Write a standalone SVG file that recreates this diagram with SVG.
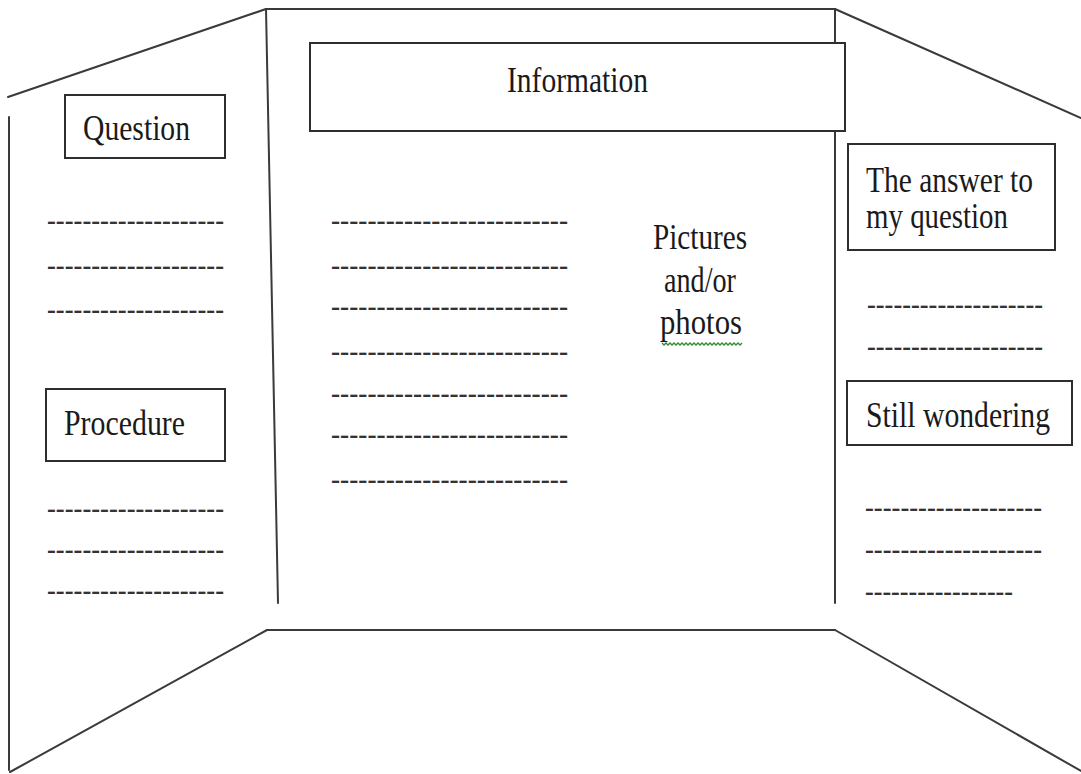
<svg xmlns="http://www.w3.org/2000/svg" width="1081" height="774" viewBox="0 0 1081 774">
  <style>
    .edge { stroke: #3a3a3a; stroke-width: 2; fill: none; stroke-linecap: round; }
    .box { fill: #ffffff; stroke: #2e2e2e; stroke-width: 2; }
    .lbl { font-family: "Liberation Serif", "Times New Roman", serif; font-size: 35px; fill: #1a1a1a; }
    .dash { font-family: "Liberation Serif", "Times New Roman", serif; font-size: 27px; font-weight: bold; fill: #333333; }
  </style>
  <rect width="1081" height="774" fill="#ffffff"/>

  <g id="board">
    <line class="edge" x1="8" y1="97" x2="266" y2="9"/>
    <line class="edge" x1="9" y1="117" x2="9" y2="770"/>
    <line class="edge" x1="10" y1="772" x2="267" y2="630"/>
    <line class="edge" x1="266" y1="9" x2="835" y2="9"/>
    <line class="edge" x1="266" y1="9" x2="278" y2="603"/>
    <line class="edge" x1="835" y1="9" x2="835" y2="603"/>
    <line class="edge" x1="267" y1="630" x2="835" y2="630"/>
    <line class="edge" x1="835" y1="9" x2="1081" y2="118"/>
    <line class="edge" x1="835" y1="630" x2="1081" y2="771"/>
  </g>

  <g id="information">
    <rect class="box" x="310" y="43" width="535" height="88"/>
    <text class="lbl" x="507" y="92" textLength="141" lengthAdjust="spacingAndGlyphs">Information</text>
  </g>

  <g id="question">
    <rect class="box" x="65" y="95" width="160" height="63"/>
    <text class="lbl" x="83" y="140" textLength="107" lengthAdjust="spacingAndGlyphs">Question</text>
  </g>

  <g id="procedure">
    <rect class="box" x="46" y="389" width="179" height="72"/>
    <text class="lbl" x="64" y="435" textLength="121" lengthAdjust="spacingAndGlyphs">Procedure</text>
  </g>

  <g id="answer">
    <rect class="box" x="848" y="144" width="207" height="106"/>
    <text class="lbl" x="866" y="192" font-size="33" textLength="167" lengthAdjust="spacingAndGlyphs">The answer to</text>
    <text class="lbl" x="866" y="228" font-size="33" textLength="142" lengthAdjust="spacingAndGlyphs">my question</text>
  </g>

  <g id="still-wondering">
    <rect class="box" x="847" y="381" width="225" height="64"/>
    <text class="lbl" x="866" y="427" textLength="184" lengthAdjust="spacingAndGlyphs">Still wondering</text>
  </g>

  <g id="pictures">
    <text class="lbl" x="700" y="249" text-anchor="middle" textLength="94" lengthAdjust="spacingAndGlyphs">Pictures</text>
    <text class="lbl" x="700" y="292" text-anchor="middle" textLength="72" lengthAdjust="spacingAndGlyphs">and/or</text>
    <text class="lbl" x="701" y="334" text-anchor="middle" textLength="82" lengthAdjust="spacingAndGlyphs">photos</text>
    <path d="M662,343 l2,2 l2,-2 l2,2 l2,-2 l2,2 l2,-2 l2,2 l2,-2 l2,2 l2,-2 l2,2 l2,-2 l2,2 l2,-2 l2,2 l2,-2 l2,2 l2,-2 l2,2 l2,-2 l2,2 l2,-2 l2,2 l2,-2 l2,2 l2,-2 l2,2 l2,-2 l2,2 l2,-2 l2,2 l2,-2 l2,2 l2,-2 l2,2 l2,-2 l2,2 l2,-2 l2,2 l2,-2" fill="none" stroke="#2e8b2e" stroke-width="1.3"/>
  </g>

  <g id="lines-left">
    <text class="dash" x="47" y="229" textLength="177" lengthAdjust="spacingAndGlyphs">--------------------</text>
    <text class="dash" x="47" y="274" textLength="177" lengthAdjust="spacingAndGlyphs">--------------------</text>
    <text class="dash" x="47" y="318" textLength="177" lengthAdjust="spacingAndGlyphs">--------------------</text>
    <text class="dash" x="47" y="517" textLength="177" lengthAdjust="spacingAndGlyphs">--------------------</text>
    <text class="dash" x="47" y="558" textLength="177" lengthAdjust="spacingAndGlyphs">--------------------</text>
    <text class="dash" x="47" y="599" textLength="177" lengthAdjust="spacingAndGlyphs">--------------------</text>
  </g>

  <g id="lines-center">
    <text class="dash" x="331" y="229" textLength="237" lengthAdjust="spacingAndGlyphs">--------------------------</text>
    <text class="dash" x="331" y="274" textLength="237" lengthAdjust="spacingAndGlyphs">--------------------------</text>
    <text class="dash" x="331" y="315" textLength="237" lengthAdjust="spacingAndGlyphs">--------------------------</text>
    <text class="dash" x="331" y="360" textLength="237" lengthAdjust="spacingAndGlyphs">--------------------------</text>
    <text class="dash" x="331" y="402" textLength="237" lengthAdjust="spacingAndGlyphs">--------------------------</text>
    <text class="dash" x="331" y="443" textLength="237" lengthAdjust="spacingAndGlyphs">--------------------------</text>
    <text class="dash" x="331" y="488" textLength="237" lengthAdjust="spacingAndGlyphs">--------------------------</text>
  </g>

  <g id="lines-right">
    <text class="dash" x="867" y="313" textLength="176" lengthAdjust="spacingAndGlyphs">--------------------</text>
    <text class="dash" x="867" y="355" textLength="176" lengthAdjust="spacingAndGlyphs">--------------------</text>
    <text class="dash" x="865" y="516" textLength="177" lengthAdjust="spacingAndGlyphs">--------------------</text>
    <text class="dash" x="865" y="558" textLength="177" lengthAdjust="spacingAndGlyphs">--------------------</text>
    <text class="dash" x="865" y="600" textLength="148" lengthAdjust="spacingAndGlyphs">-----------------</text>
  </g>
</svg>
